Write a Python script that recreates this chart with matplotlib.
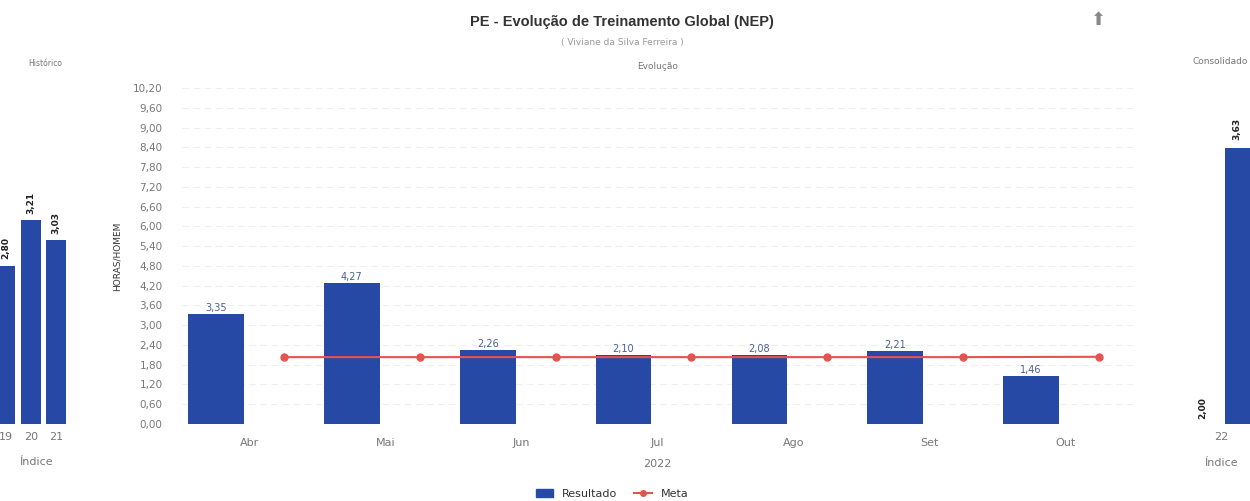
import numpy as np
import matplotlib.pyplot as plt
from matplotlib.lines import Line2D
from matplotlib.patches import Patch

# Dados
meses = ['Abr', 'Mai', 'Jun', 'Jul', 'Ago', 'Set', 'Out']
resultado = [3.35, 4.27, 2.26, 2.10, 2.08, 2.21, 1.46]
meta = [2.03, 2.03, 2.03, 2.03, 2.03, 2.03, 2.04]

hist_anos = ['19', '20', '21']
hist_valores = [2.80, 3.21, 3.03]

cons_anos = ['22']
cons_valor = [3.63]
cons_meta = [2.00]

azul = '#2649a5'
vermelho = '#e5534f'
cinza = '#777777'


def virgula(v):
    return f'{v:.2f}'.replace('.', ',')


fig = plt.figure(figsize=(12.5, 5.01), dpi=100)
W, H = 1250, 501


def box(x0, y0, x1, y1):
    # converte pixels (origem no topo) para fração da figura
    return [x0 / W, 1 - y1 / H, (x1 - x0) / W, (y1 - y0) / H]


# Gráfico central - Evolução
ax = fig.add_axes(box(182, 88, 1133, 424))
x = np.arange(len(meses))
ax.bar(x - 0.25, resultado, width=0.41, color=azul, zorder=3)
ax.plot(x + 0.25, meta, color=vermelho, marker='o', markersize=5, linewidth=1.5, zorder=4)
for xi, v in zip(x, resultado):
    ax.text(xi - 0.25, v + 0.03, virgula(v), ha='center', va='bottom', fontsize=7, color='#4a5f95')
ax.set_xlim(-0.5, len(meses) - 0.5)
ax.set_ylim(0, 10.2)
yt = np.arange(0, 10.21, 0.6)
ax.set_yticks(yt)
ax.set_yticklabels([virgula(t) for t in yt], fontsize=7.5, color=cinza)
ax.set_xticks(x)
ax.set_xticklabels(meses, fontsize=8, color=cinza)
ax.tick_params(length=0, pad=10)
ax.tick_params(axis='y', pad=14)
ax.grid(axis='y', color='#eeeeee', linestyle=(0, (6, 4)), linewidth=0.8, zorder=0)
for s in ax.spines.values():
    s.set_visible(False)
ax.set_xlabel('2022', fontsize=8, color=cinza, labelpad=8)
ax.set_ylabel('HORAS/HOMEM', fontsize=6.5, color='#333333', labelpad=8)
ax.set_title('Evolução', fontsize=6.5, color=cinza, pad=14)

# Gráfico à esquerda - Histórico (cortado)
axh = fig.add_axes(box(-25, 80, 69, 424))
xh = np.arange(len(hist_anos))
axh.bar(xh, hist_valores, width=0.78, color=azul, zorder=3)
for xi, v in zip(xh, hist_valores):
    axh.text(xi, v + 0.06, virgula(v), ha='center', va='bottom', rotation=90,
             fontsize=6.5, fontweight='bold', color='#222222')
axh.set_xlim(-1.2, 2.5)
axh.set_ylim(1.38, 4.47)
axh.set_xticks(xh)
axh.set_xticklabels(hist_anos, fontsize=8, color=cinza)
axh.set_yticks([])
axh.tick_params(length=0, pad=6)
for s in axh.spines.values():
    s.set_visible(False)
axh.set_xlabel('Índice', fontsize=8, color=cinza)
axh.xaxis.set_label_coords(0.65, -0.11)
axh.xaxis.label.set_va('center')
fig.text(45 / W, 1 - 64 / H, 'Histórico', fontsize=5.5, color=cinza, ha='center', va='center')

# Gráfico à direita - Consolidado (cortado)
axc = fig.add_axes(box(1180, 80, 1262, 424))
xc = np.arange(len(cons_anos))
axc.bar(xc + 0.449, cons_valor, width=0.8, color=azul, zorder=3)
axc.text(0.195, cons_valor[0] + 0.1, virgula(cons_valor[0]), ha='center', va='bottom',
         rotation=90, fontsize=6.5, fontweight='bold', color='#222222')
axc.text(-0.22, 0.07, virgula(cons_meta[0]), ha='center', va='bottom', rotation=90,
         fontsize=6.5, fontweight='bold', color='#222222')
axc.set_xlim(-0.5, 0.5)
axc.set_ylim(0, 4.52)
axc.set_xticks(xc)
axc.set_xticklabels(cons_anos, fontsize=8, color=cinza)
axc.set_yticks([])
axc.tick_params(length=0, pad=6)
for s in axc.spines.values():
    s.set_visible(False)
axc.set_xlabel('Índice', fontsize=8, color=cinza, labelpad=11)
fig.text(1220 / W, 1 - 62 / H, 'Consolidado', fontsize=6.5, color=cinza, ha='center', va='center')

# Títulos
fig.text(622 / W, 1 - 22 / H, 'PE - Evolução de Treinamento Global (NEP)', fontsize=10.5,
         fontweight='bold', color='#333333', ha='center', va='center', family='Liberation Sans')
fig.text(622 / W, 1 - 42 / H, '( Viviane da Silva Ferreira )', fontsize=6.5, color='#999999',
         ha='center', va='center')
fig.text(1098 / W, 1 - 20 / H, '⬆', fontsize=13, color='#888888', ha='center', va='center')

# Legenda
handles = [Patch(color=azul, label='Resultado'),
           Line2D([0], [0], color=vermelho, marker='o', markersize=4, label='Meta')]
fig.legend(handles=handles, loc='center', bbox_to_anchor=(612 / W, 1 - 494 / H), ncol=2,
           frameon=False, fontsize=8, handlelength=1.6, columnspacing=1.5, labelcolor='#333333')

fig.savefig('out.png', dpi=100, facecolor='white')
